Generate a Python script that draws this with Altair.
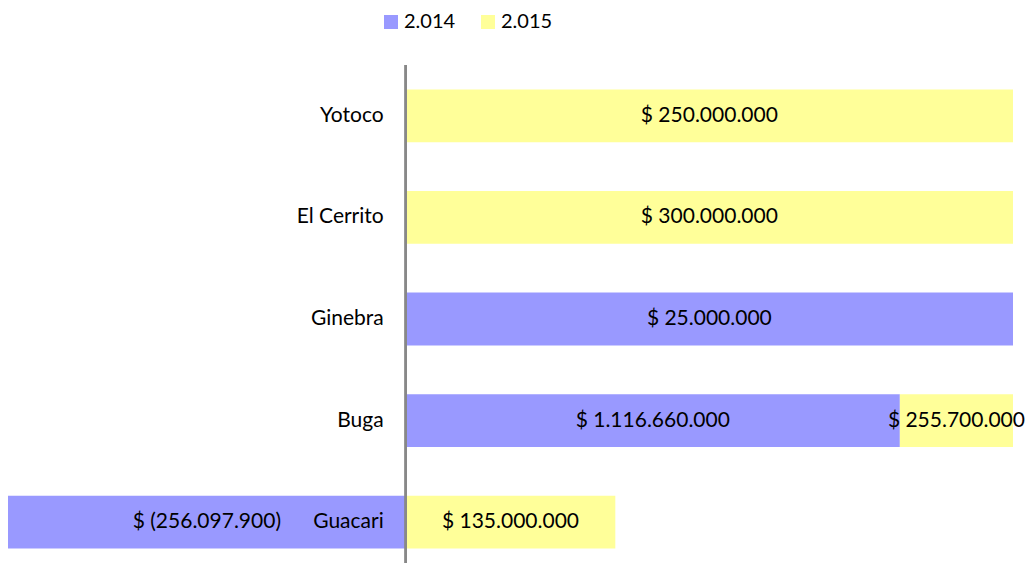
import altair as alt
import pandas as pd

munis = ["Yotoco", "El Cerrito", "Ginebra", "Buga", "Guacari"]
years = ["2.014", "2.015"]
v2014 = [None, None, 25000000, 1116660000, -256097900]
v2015 = [250000000, 300000000, None, 255700000, 135000000]
colors = ["#9999FF", "#FFFF99"]


def fmt(v):
    s = f"{abs(v):,.0f}".replace(",", ".")
    return f"$ ({s})" if v < 0 else f"$ {s}"


rows = []
for m, a, b in zip(munis, v2014, v2015):
    for y, v in ((years[0], a), (years[1], b)):
        if v is not None:
            rows.append({"muni": m, "year": y, "value": v, "label": fmt(v)})
df = pd.DataFrame(rows)
names = pd.DataFrame({"muni": munis})

FONT = "Lato"
FS = 21
yenc = alt.Y("muni:N", sort=munis, axis=None,
             scale=alt.Scale(paddingInner=0.48, paddingOuter=0.24, range=[0, 508]))

base = alt.Chart(df).transform_calculate(
    absval="abs(datum.value)"
).transform_joinaggregate(
    total="sum(absval)", groupby=["muni"]
).transform_calculate(
    frac="datum.value / datum.total"
).transform_stack(
    stack="frac", groupby=["muni"], as_=["x0", "x1"],
    sort=[alt.SortField("year", order="ascending")]
).transform_calculate(
    mid="(datum.x0 + datum.x1) / 2"
)

xscale = alt.Scale(nice=False, zero=True)

bars = base.mark_bar().encode(
    x=alt.X("x0:Q", axis=None, scale=xscale),
    x2="x1:Q",
    y=yenc,
    color=alt.Color(
        "year:N",
        scale=alt.Scale(domain=years, range=colors),
        legend=alt.Legend(
            title=None, orient="none", direction="horizontal",
            legendX=373, legendY=-53, symbolType="square", symbolSize=196,
            symbolStrokeWidth=0, labelFontSize=20, labelFont=FONT,
            labelColor="#000000", labelOffset=3, columnPadding=22,
        ),
    ),
)

vals = base.mark_text(font=FONT, fontSize=FS, color="#000000").encode(
    x=alt.X("mid:Q", scale=xscale),
    y=yenc,
    text="label:N",
)

rule = alt.Chart(names).mark_rule(color="#888888", strokeWidth=2).encode(
    x=alt.datum(0)
)

cats = alt.Chart(names).mark_text(
    font=FONT, fontSize=FS, color="#000000", align="right", dx=-22
).encode(
    x=alt.datum(0),
    y=yenc,
    text="muni:N",
)

chart = alt.layer(bars, vals, cats, rule).properties(
    width=1005, height=498,
    autosize=alt.AutoSizeParams(type="none"),
    padding={"left": 0, "top": 57, "right": 15, "bottom": 0},
).configure_view(stroke=None)

chart.save("out.html", embed_options={"renderer": "svg", "actions": False})
